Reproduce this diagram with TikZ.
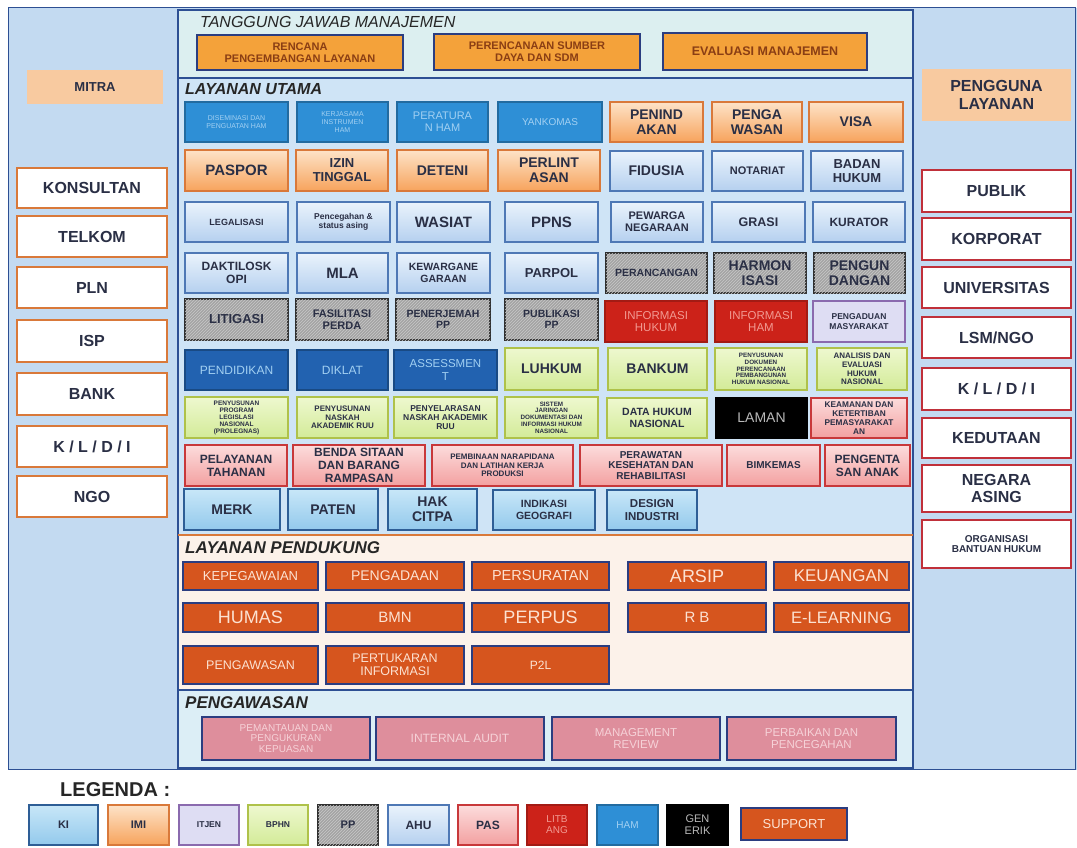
\documentclass[tikz,border=0pt]{standalone}
\usepackage{fontspec}
\setmainfont{Liberation Sans}
\usetikzlibrary{patterns}

% font size with a tight line spacing
\newcommand\fsz[1]{\fontsize{#1}{\fpeval{#1*1.08}}\selectfont}
\newcommand\cellwt{\bfseries}
% \cellbox{name}{style}{x1}{y1}{x2}{y2}{font size}{text}
\newcommand\cellbox[8]{\node[#2, font=\cellwt\fsz{#7},
  minimum width={(#5)-(#3)}, minimum height={(#6)-(#4)}]
  (#1) at ({((#3)+(#5))/2},{((#4)+(#6))/2}) {#8};}

\definecolor{txt}{HTML}{2A2F45}
\definecolor{frame}{HTML}{2D4F93}
\definecolor{colBg}{HTML}{C3DAF1}
\definecolor{mgBg}{HTML}{DCEFF0}
\definecolor{utBg}{HTML}{CFE4F6}
\definecolor{pdBg}{HTML}{FCF2EA}
\definecolor{pwBg}{HTML}{DCEEF6}
\definecolor{labF}{HTML}{F8CAA0}
\definecolor{hamF}{HTML}{2E8FD6}
\definecolor{hamD}{HTML}{2262B0}
\definecolor{hamT}{HTML}{A2D0F2}
\definecolor{imiA}{HTML}{FDE3C8}
\definecolor{imiB}{HTML}{F7A35C}
\definecolor{imiL}{HTML}{D9793A}
\definecolor{ahuA}{HTML}{EAF3FC}
\definecolor{ahuB}{HTML}{B5D0EF}
\definecolor{ahuL}{HTML}{4E78B5}
\definecolor{ppF}{HTML}{A3A3A3}
\definecolor{ppL}{HTML}{2F2F2F}
\definecolor{litF}{HTML}{CC2219}
\definecolor{litT}{HTML}{F29A92}
\definecolor{itjF}{HTML}{DEDDF3}
\definecolor{itjL}{HTML}{8A6AAE}
\definecolor{bphA}{HTML}{EEF8CF}
\definecolor{bphB}{HTML}{D3EB98}
\definecolor{bphL}{HTML}{AFC24A}
\definecolor{pasA}{HTML}{FCDCDC}
\definecolor{pasB}{HTML}{F3A0A0}
\definecolor{pasL}{HTML}{C8383A}
\definecolor{kiA}{HTML}{C8E7F8}
\definecolor{kiB}{HTML}{93C9EC}
\definecolor{kiL}{HTML}{2E5E96}
\definecolor{supF}{HTML}{D6551E}
\definecolor{supL}{HTML}{2B3D80}
\definecolor{supT}{HTML}{FCE2D2}
\definecolor{pwsF}{HTML}{DE8E9C}
\definecolor{pwsT}{HTML}{F6D2D8}
\definecolor{mgF}{HTML}{F4A23A}
\definecolor{mgT}{HTML}{8A3E14}
\definecolor{userL}{HTML}{C0303A}

\tikzset{
  wt/.store in=\cellwt,
  box/.style={draw, line width=1.1pt, align=center, inner sep=1pt, outer sep=0pt, text=txt},
  ham/.style={box, fill=hamF, draw=hamF!75!black, text=hamT, wt=\mdseries},
  hamd/.style={ham, fill=hamD, draw=hamD!75!black},
  imi/.style={box, top color=imiA, bottom color=imiB, draw=imiL},
  ahu/.style={box, top color=ahuA, bottom color=ahuB, draw=ahuL},
  pp/.style={box, fill=ppF, draw=ppL, line width=1.4pt,
    postaction={pattern=north east lines, pattern color=ppF!60!white}},
  lit/.style={box, fill=litF, draw=litF!80!black, text=litT, wt=\mdseries},
  itj/.style={box, fill=itjF, draw=itjL},
  bph/.style={box, top color=bphA, bottom color=bphB, draw=bphL},
  gen/.style={box, fill=black, draw=black, text=gray!55, wt=\mdseries},
  pas/.style={box, top color=pasA, bottom color=pasB, draw=pasL},
  ki/.style={box, top color=kiA, bottom color=kiB, draw=kiL},
  sup/.style={box, fill=supF, draw=supL, line width=1.8pt, text=supT, wt=\mdseries},
  pws/.style={box, fill=pwsF, draw=supL, line width=1.8pt, text=pwsT, wt=\mdseries},
  mgmt/.style={box, fill=mgF, draw=supL, line width=1.8pt, text=mgT},
  mitra/.style={box, fill=white, draw=imiL, line width=1.5pt},
  user/.style={box, fill=white, draw=userL, line width=1.5pt},
  lbl/.style={fill=labF, align=center, inner sep=1pt, text=txt},
  sect/.style={anchor=west, inner sep=0pt, text=black!85},
}

\begin{document}
\begin{tikzpicture}[x=1pt, y=-1pt]
\useasboundingbox (0,0) rectangle (1077,848);

% ---------- background panels ----------
\fill[colBg] (8,8) rectangle (1077,770);
\draw[frame, line width=1pt] (8,8) rectangle (1075,769);
\filldraw[fill=mgBg, draw=frame, line width=1.5pt] (178,10) rectangle (913,78);
\filldraw[fill=utBg, draw=frame, line width=1.5pt] (178,78) rectangle (913,535);
\filldraw[fill=pdBg, draw=frame, line width=1.5pt] (178,535) rectangle (913,690);
\draw[imiL, line width=1.2pt] (178,535) -- (913,535);
\filldraw[fill=pwBg, draw=frame, line width=1.5pt] (178,690) rectangle (913,768);

% ---------- section titles ----------
\node[sect, font=\itshape\fsz{16}] (tMgmt) at (200,22) {TANGGUNG JAWAB MANAJEMEN};
\node[sect, font=\bfseries\itshape\fsz{16}] (tUtama) at (185,89) {LAYANAN UTAMA};
\node[sect, font=\bfseries\itshape\fsz{17}] (tPendukung) at (185,548) {LAYANAN PENDUKUNG};
\node[sect, font=\bfseries\itshape\fsz{17}] (tPengawasan) at (185,703) {PENGAWASAN};

% ---------- management ----------
\cellbox{mgRencana}{mgmt}{197}{35}{403}{70}{11}{RENCANA\\PENGEMBANGAN LAYANAN}
\cellbox{mgSdm}{mgmt}{434}{34}{640}{70}{11}{PERENCANAAN SUMBER\\DAYA DAN SDM}
\cellbox{mgEval}{mgmt}{663}{33}{867}{70}{12.5}{EVALUASI MANAJEMEN}

% ---------- layanan utama ----------
% row 1
\cellbox{hamDisem}{ham}{185}{102}{288}{142}{7}{DISEMINASI DAN\\PENGUATAN HAM}
\cellbox{hamKerja}{ham}{297}{102}{388}{142}{7}{KERJASAMA\\INSTRUMEN\\HAM}
\cellbox{hamAtur}{ham}{397}{102}{488}{142}{11}{PERATURA\\N HAM}
\cellbox{hamYan}{ham}{498}{102}{602}{142}{10}{YANKOMAS}
\cellbox{penindakan}{imi}{610}{102}{703}{142}{14}{PENIND\\AKAN}
\cellbox{pengawasanImi}{imi}{712}{102}{802}{142}{14}{PENGA\\WASAN}
\cellbox{visa}{imi}{809}{102}{903}{142}{14}{VISA}
% row 2
\cellbox{paspor}{imi}{185}{150}{288}{191}{15}{PASPOR}
\cellbox{izin}{imi}{296}{150}{388}{191}{13}{IZIN\\TINGGAL}
\cellbox{deteni}{imi}{397}{150}{488}{191}{14}{DETENI}
\cellbox{perlintasan}{imi}{498}{150}{600}{191}{14}{PERLINT\\ASAN}
\cellbox{fidusia}{ahu}{610}{151}{703}{191}{14}{FIDUSIA}
\cellbox{notariat}{ahu}{712}{151}{803}{191}{11}{NOTARIAT}
\cellbox{badanHukum}{ahu}{811}{151}{903}{191}{13}{BADAN\\HUKUM}
% row 3
\cellbox{legalisasi}{ahu}{185}{202}{288}{242}{9}{LEGALISASI}
\cellbox{pencegahan}{ahu}{297}{202}{390}{242}{8.5}{Pencegahan \&\\status asing}
\cellbox{wasiat}{ahu}{397}{202}{490}{242}{15}{WASIAT}
\cellbox{ppns}{ahu}{505}{202}{598}{242}{15}{PPNS}
\cellbox{pewarga}{ahu}{611}{202}{703}{242}{11}{PEWARGA\\NEGARAAN}
\cellbox{grasi}{ahu}{712}{202}{805}{242}{12.5}{GRASI}
\cellbox{kurator}{ahu}{813}{202}{905}{242}{12}{KURATOR}
% row 4
\cellbox{daktiloskopi}{ahu}{185}{253}{288}{293}{12}{DAKTILOSK\\OPI}
\cellbox{mla}{ahu}{297}{253}{388}{293}{15}{MLA}
\cellbox{kewarga}{ahu}{397}{253}{490}{293}{10.5}{KEWARGANE\\GARAAN}
\cellbox{parpol}{ahu}{505}{253}{598}{293}{13}{PARPOL}
\cellbox{perancangan}{pp}{606}{253}{707}{293}{10.5}{PERANCANGAN}
\cellbox{harmonisasi}{pp}{714}{253}{806}{293}{14}{HARMON\\ISASI}
\cellbox{pengundangan}{pp}{814}{253}{905}{293}{14}{PENGUN\\DANGAN}
% row 5
\cellbox{litigasi}{pp}{185}{299}{288}{340}{13}{LITIGASI}
\cellbox{fasilitasi}{pp}{296}{299}{388}{340}{11}{FASILITASI\\PERDA}
\cellbox{penerjemah}{pp}{396}{299}{490}{340}{10.5}{PENERJEMAH\\PP}
\cellbox{publikasi}{pp}{505}{299}{598}{340}{10.5}{PUBLIKASI\\PP}
\cellbox{infoHukum}{lit}{605}{301}{707}{342}{11.5}{INFORMASI\\HUKUM}
\cellbox{infoHam}{lit}{715}{301}{807}{342}{11.5}{INFORMASI\\HAM}
\cellbox{pengaduan}{itj}{813}{301}{905}{342}{8.5}{PENGADUAN\\MASYARAKAT}
% row 6
\cellbox{pendidikan}{hamd}{185}{350}{288}{390}{12}{PENDIDIKAN}
\cellbox{diklat}{hamd}{297}{350}{388}{390}{12}{DIKLAT}
\cellbox{assessment}{hamd}{394}{350}{497}{390}{11.5}{ASSESSMEN\\T}
\cellbox{luhkum}{bph}{505}{348}{598}{390}{14}{LUHKUM}
\cellbox{bankum}{bph}{608}{348}{707}{390}{14}{BANKUM}
\cellbox{dokPerencanaan}{bph}{715}{348}{807}{390}{6.3}{PENYUSUNAN\\DOKUMEN\\PERENCANAAN\\PEMBANGUNAN\\HUKUM NASIONAL}
\cellbox{analisis}{bph}{817}{348}{907}{390}{8}{ANALISIS DAN\\EVALUASI\\HUKUM\\NASIONAL}
% row 7
\cellbox{prolegnas}{bph}{185}{397}{288}{438}{6.5}{PENYUSUNAN\\PROGRAM\\LEGISLASI\\NASIONAL\\(PROLEGNAS)}
\cellbox{naskahRuu}{bph}{297}{397}{388}{438}{8}{PENYUSUNAN\\NASKAH\\AKADEMIK RUU}
\cellbox{penyelarasan}{bph}{394}{397}{497}{438}{8.5}{PENYELARASAN\\NASKAH AKADEMIK\\RUU}
\cellbox{jdih}{bph}{505}{397}{598}{438}{6.3}{SISTEM\\JARINGAN\\DOKUMENTASI DAN\\INFORMASI HUKUM\\NASIONAL}
\cellbox{dataHukum}{bph}{607}{398}{707}{438}{10.5}{DATA HUKUM\\NASIONAL}
\cellbox{laman}{gen}{716}{398}{807}{438}{14}{LAMAN}
\cellbox{keamanan}{pas}{811}{398}{907}{438}{8.3}{KEAMANAN DAN\\KETERTIBAN\\PEMASYARAKAT\\AN}
% row 8
\cellbox{tahanan}{pas}{185}{445}{287}{486}{12}{PELAYANAN\\TAHANAN}
\cellbox{sitaan}{pas}{293}{445}{425}{486}{12}{BENDA SITAAN\\DAN BARANG\\RAMPASAN}
\cellbox{pembinaan}{pas}{432}{445}{573}{486}{8}{PEMBINAAN NARAPIDANA\\DAN LATIHAN KERJA\\PRODUKSI}
\cellbox{perawatan}{pas}{580}{445}{722}{486}{10}{PERAWATAN\\KESEHATAN DAN\\REHABILITASI}
\cellbox{bimkemas}{pas}{727}{445}{820}{486}{10}{BIMKEMAS}
\cellbox{pengentasan}{pas}{825}{445}{910}{486}{12}{PENGENTA\\SAN ANAK}
% row 9
\cellbox{merk}{ki}{184}{489}{280}{530}{14}{MERK}
\cellbox{paten}{ki}{288}{489}{378}{530}{14}{PATEN}
\cellbox{hakCipta}{ki}{388}{489}{477}{530}{14}{HAK\\CITPA}
\cellbox{indikasi}{ki}{493}{490}{595}{530}{10.5}{INDIKASI\\GEOGRAFI}
\cellbox{design}{ki}{607}{490}{697}{530}{11.5}{DESIGN\\INDUSTRI}

% ---------- layanan pendukung ----------
\cellbox{kepegawaian}{sup}{183}{562}{318}{590}{13}{KEPEGAWAIAN}
\cellbox{pengadaan}{sup}{326}{562}{464}{590}{14}{PENGADAAN}
\cellbox{persuratan}{sup}{472}{562}{609}{590}{14.5}{PERSURATAN}
\cellbox{arsip}{sup}{628}{562}{766}{590}{18}{ARSIP}
\cellbox{keuangan}{sup}{774}{562}{909}{590}{17}{KEUANGAN}
\cellbox{humas}{sup}{183}{603}{318}{632}{18}{HUMAS}
\cellbox{bmn}{sup}{326}{603}{464}{632}{15}{BMN}
\cellbox{perpus}{sup}{472}{603}{609}{632}{18}{PERPUS}
\cellbox{rb}{sup}{628}{603}{766}{632}{15}{R B}
\cellbox{elearning}{sup}{774}{603}{909}{632}{16.5}{E-LEARNING}
\cellbox{pengawasanSup}{sup}{183}{646}{318}{684}{12.5}{PENGAWASAN}
\cellbox{pertukaran}{sup}{326}{646}{464}{684}{12.5}{PERTUKARAN\\INFORMASI}
\cellbox{ppl}{sup}{472}{646}{609}{684}{12}{P2L}

% ---------- pengawasan ----------
\cellbox{kepuasan}{pws}{202}{717}{370}{760}{10}{PEMANTAUAN DAN\\PENGUKURAN\\KEPUASAN}
\cellbox{audit}{pws}{376}{717}{544}{760}{12}{INTERNAL AUDIT}
\cellbox{review}{pws}{552}{717}{720}{760}{11.5}{MANAGEMENT\\REVIEW}
\cellbox{perbaikan}{pws}{727}{717}{896}{760}{11.5}{PERBAIKAN DAN\\PENCEGAHAN}

% ---------- mitra ----------
\cellbox{mitraLbl}{lbl}{27}{70}{163}{104}{13}{MITRA}
\cellbox{konsultan}{mitra}{17}{168}{167}{208}{16}{KONSULTAN}
\cellbox{telkom}{mitra}{17}{216}{167}{257}{16}{TELKOM}
\cellbox{pln}{mitra}{17}{267}{167}{308}{16}{PLN}
\cellbox{isp}{mitra}{17}{320}{167}{362}{16}{ISP}
\cellbox{bank}{mitra}{17}{373}{167}{415}{16}{BANK}
\cellbox{kldiMitra}{mitra}{17}{426}{167}{467}{16}{K / L / D / I}
\cellbox{ngo}{mitra}{17}{476}{167}{517}{16}{NGO}

% ---------- pengguna layanan ----------
\cellbox{userLbl}{lbl}{922}{69}{1071}{121}{16}{PENGGUNA\\LAYANAN}
\cellbox{publik}{user}{922}{170}{1071}{212}{16}{PUBLIK}
\cellbox{korporat}{user}{922}{218}{1071}{260}{16}{KORPORAT}
\cellbox{universitas}{user}{922}{267}{1071}{308}{16}{UNIVERSITAS}
\cellbox{lsm}{user}{922}{317}{1071}{358}{16}{LSM/NGO}
\cellbox{kldiUser}{user}{922}{368}{1071}{410}{16}{K / L / D / I}
\cellbox{kedutaan}{user}{922}{418}{1071}{458}{16}{KEDUTAAN}
\cellbox{negara}{user}{922}{465}{1071}{512}{16}{NEGARA\\ASING}
\cellbox{obh}{user}{922}{520}{1071}{568}{10}{ORGANISASI\\BANTUAN HUKUM}

% ---------- legend ----------
\node[sect, font=\bfseries\fsz{20}] (legenda) at (60,790) {LEGENDA :};
\cellbox{lgKi}{ki}{29}{805}{98}{845}{11}{KI}
\cellbox{lgImi}{imi}{108}{805}{169}{845}{11}{IMI}
\cellbox{lgItjen}{itj}{179}{805}{239}{845}{8.5}{ITJEN}
\cellbox{lgBphn}{bph}{248}{805}{308}{845}{8.5}{BPHN}
\cellbox{lgPp}{pp}{318}{805}{378}{845}{11}{PP}
\cellbox{lgAhu}{ahu}{388}{805}{449}{845}{12}{AHU}
\cellbox{lgPas}{pas}{458}{805}{518}{845}{12}{PAS}
\cellbox{lgLitbang}{lit}{527}{805}{587}{845}{10}{LITB\\ANG}
\cellbox{lgHam}{ham}{597}{805}{658}{845}{10}{HAM}
\cellbox{lgGenerik}{gen}{667}{805}{728}{845}{11}{GEN\\ERIK}
\cellbox{lgSupport}{sup}{741}{808}{847}{840}{13}{SUPPORT}
\end{tikzpicture}
\end{document}
